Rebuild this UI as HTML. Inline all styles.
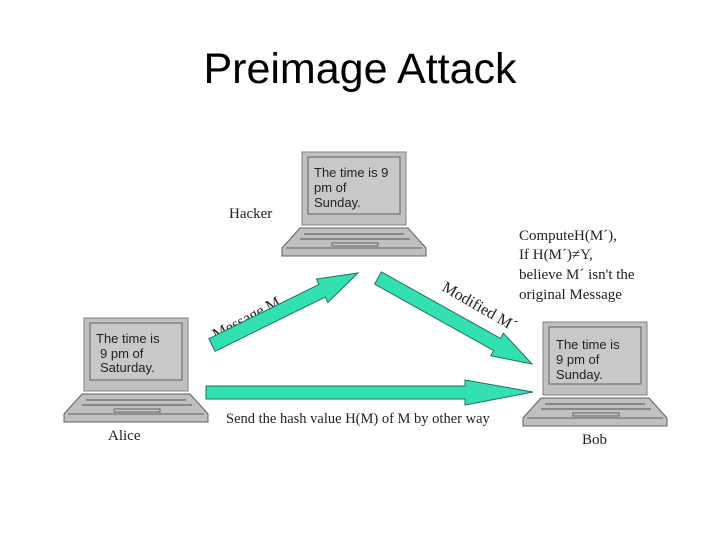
<!DOCTYPE html>
<html><head><style>
body{margin:0;background:#fff;}
svg{display:block;}
</style></head><body>
<svg width="720" height="540" xmlns="http://www.w3.org/2000/svg">
<defs>
<g id="lap">
 <rect x="0" y="0" width="104" height="73" fill="#c0c0c0" stroke="#808080"/>
 <rect x="6" y="5" width="92" height="57" fill="#c8c8c8" stroke="#606060"/>
 <polygon points="-2,76 106,76 124,96 124,104 -20,104 -20,96" fill="#c0c0c0" stroke="#606060"/>
 <line x1="-16" y1="96" x2="120" y2="96" stroke="#606060"/>
 <line x1="2" y1="82" x2="102" y2="82" stroke="#505050"/>
 <line x1="-2" y1="87" x2="108" y2="87" stroke="#505050"/>
 <rect x="30" y="91" width="46" height="3" fill="#c8c8c8" stroke="#606060"/>
</g>
</defs>
<text x="360" y="83" font-family="Liberation Sans, sans-serif" font-size="43" text-anchor="middle">Preimage Attack</text>

<use href="#lap" x="302" y="152"/>
<use href="#lap" x="84" y="318"/>
<use href="#lap" x="543" y="322"/>

<g font-family="Liberation Sans, sans-serif" font-size="13" fill="#222">
<text x="314" y="177">The time is 9</text><text x="314" y="192">pm of</text><text x="314" y="207">Sunday.</text>
<text x="96" y="343">The time is</text><text x="100" y="358">9 pm of</text><text x="100" y="372">Saturday.</text>
<text x="556" y="349">The time is</text><text x="556" y="364">9 pm of</text><text x="556" y="379">Sunday.</text>
</g>

<g font-family="Liberation Serif, serif" font-size="15" fill="#222">
<text x="229" y="218">Hacker</text>
<text x="108" y="440">Alice</text>
<text x="582" y="444">Bob</text>
<text x="519" y="240">ComputeH(M´),</text>
<text x="519" y="259">If H(M´)≠Y,</text>
<text x="519" y="279">believe M´ isn't the</text>
<text x="519" y="299">original Message</text>
<text x="226" y="423" font-size="14.5">Send the hash value H(M) of M by other way</text>
<text transform="translate(216,340) rotate(-28)" font-size="16">Message M</text>
<text transform="translate(441,290) rotate(30)" font-size="16">Modified M´</text>
</g>

<g fill="#33e0b0" stroke="#207060" stroke-width="1">
<polygon points="206,386 465,386 465,380 533,392 465,405 465,399 206,399"/>
<polygon points="215.1,351.3 325.2,297 327.8,302.4 358,273 316.4,279 319,284.4 208.9,338.7"/>
<polygon points="374.6,284.1 493.7,350.6 490.8,355.8 532,364 503.4,333.2 500.5,338.4 381.4,271.9"/>
</g>
</svg>
</body></html>
